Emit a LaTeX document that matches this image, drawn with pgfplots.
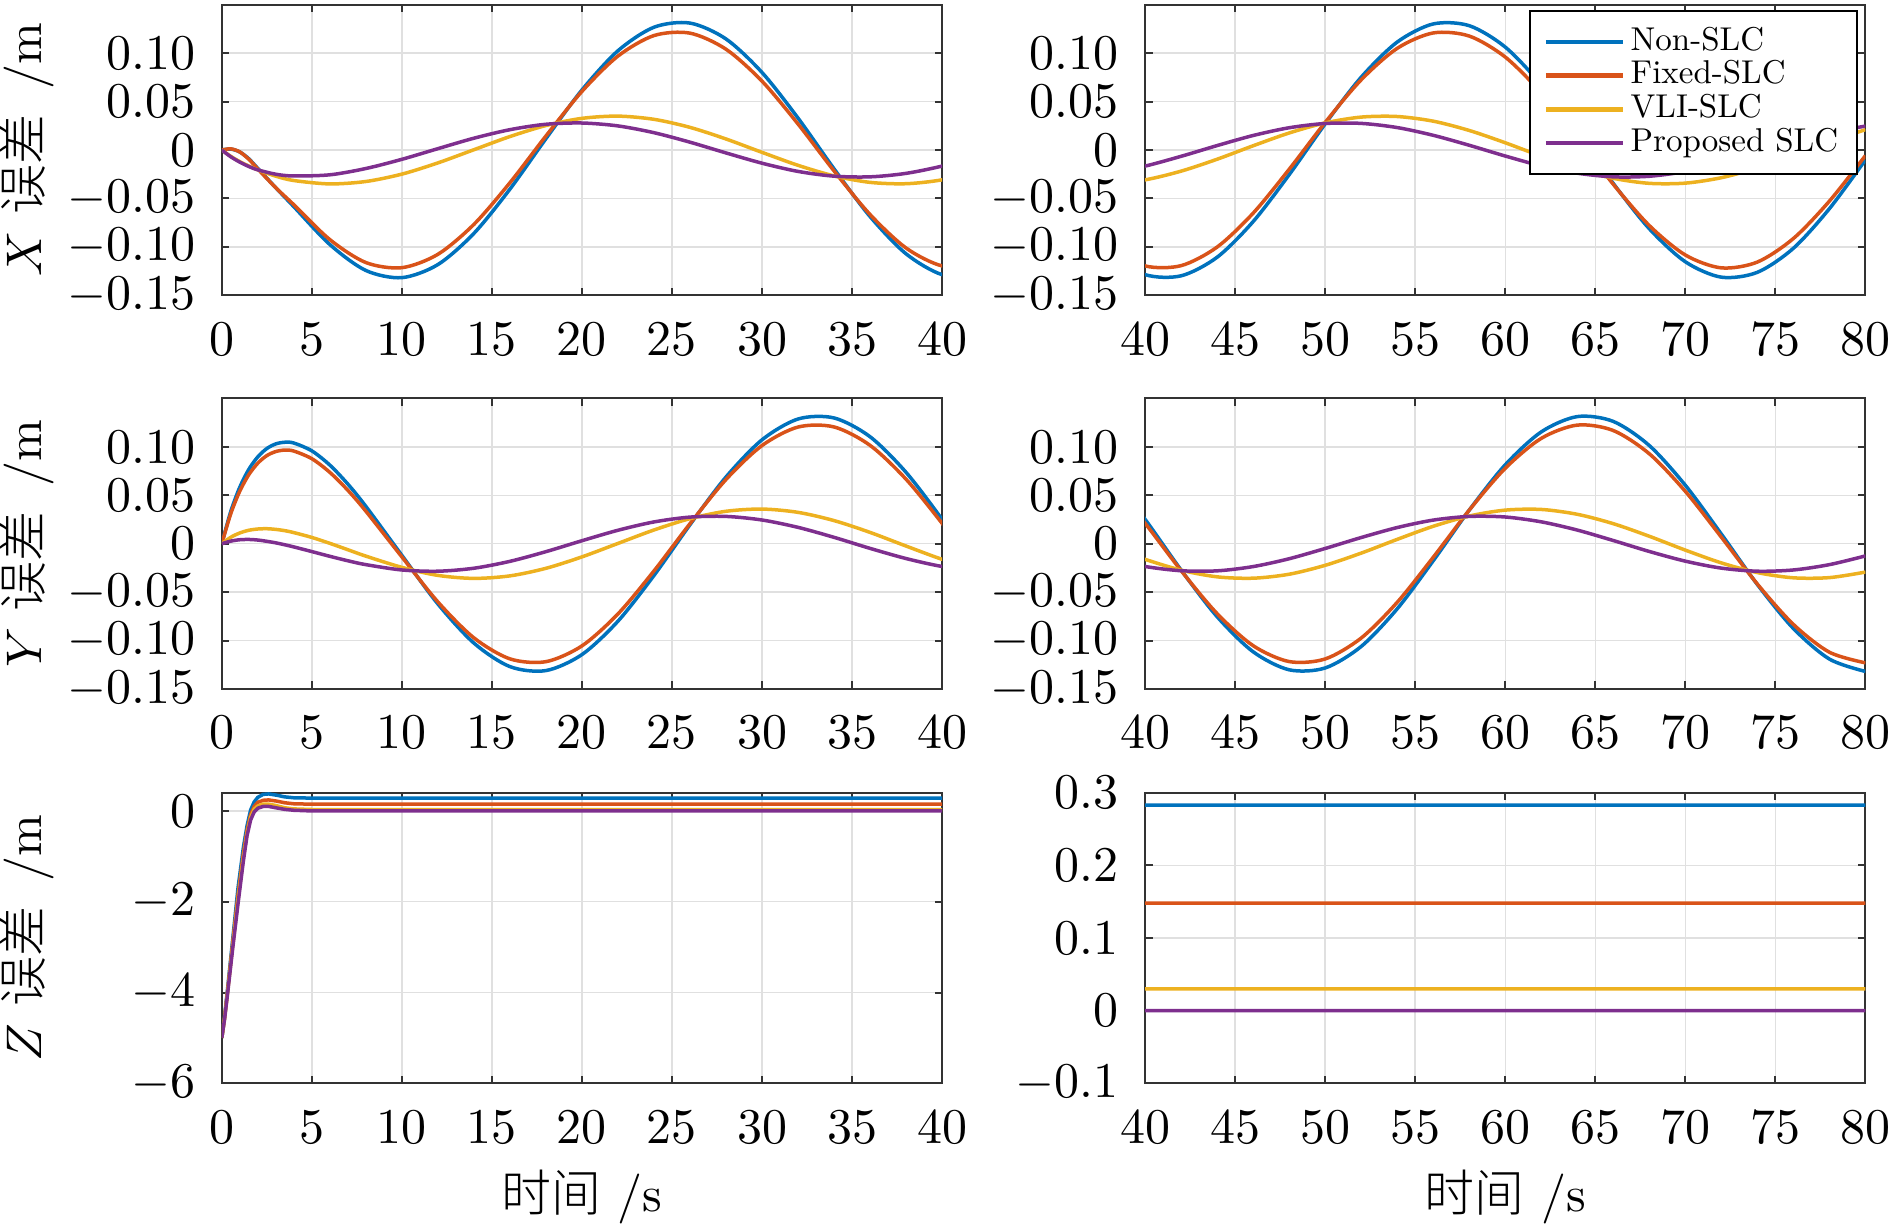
\documentclass[border=0pt]{standalone}
\usepackage{fontspec}
\newfontfamily\cjk{Noto Sans CJK SC Light}
\newfontfamily\lgd{lmroman10-regular}[Extension=.otf]
\usepackage{pgfplots}
\usepackage{pgfplotstable}
\pgfplotsset{compat=1.18}
\definecolor{c1}{rgb}{0,0.447,0.741}
\definecolor{c2}{rgb}{0.850,0.325,0.098}
\definecolor{c3}{rgb}{0.929,0.694,0.125}
\definecolor{c4}{rgb}{0.494,0.184,0.556}

\pgfplotstableread{
t B R Yw P
0 0 0 0 0
0.5 0.0010 0.0012 -0.0065 -0.0070
1 -0.0020 -0.0020 -0.0120 -0.0125
1.5 -0.0090 -0.0095 -0.0165 -0.0170
2 -0.0190 -0.0195 -0.0205 -0.0205
3 -0.0390 -0.0390 -0.0270 -0.0250
4 -0.0585 -0.0565 -0.0315 -0.0268
6 -0.0976 -0.0925 -0.0350 -0.0256
8 -0.1244 -0.1162 -0.0325 -0.0191
10 -0.1318 -0.1215 -0.0249 -0.0096
12 -0.1183 -0.1077 -0.0133 0.0014
14 -0.0861 -0.0768 0.0003 0.0122
16 -0.0404 -0.0338 0.0139 0.0210
18 0.0117 0.0145 0.0253 0.0266
20 0.0620 0.0605 0.0327 0.0279
22 0.1025 0.0970 0.0350 0.0249
24 0.1268 0.1182 0.0317 0.0179
26 0.1311 0.1207 0.0234 0.0081
28 0.1147 0.1041 0.0114 -0.0030
30 0.0801 0.0711 -0.0024 -0.0136
32 0.0330 0.0269 -0.0158 -0.0221
34 -0.0194 -0.0216 -0.0267 -0.0270
36 -0.0687 -0.0666 -0.0334 -0.0277
38 -0.1072 -0.1012 -0.0348 -0.0241
40 -0.1287 -0.1197 -0.0308 -0.0166
42 -0.1299 -0.1194 -0.0218 -0.0065
44 -0.1107 -0.1002 -0.0095 0.0046
46 -0.0739 -0.0652 0.0044 0.0150
48 -0.0255 -0.0199 0.0176 0.0230
50 0.0270 0.0285 0.0280 0.0274
52 0.0752 0.0725 0.0340 0.0275
54 0.1115 0.1050 0.0346 0.0232
56 0.1302 0.1209 0.0298 0.0152
58 0.1284 0.1177 0.0202 0.0049
60 0.1063 0.0960 0.0075 -0.0062
62 0.0674 0.0591 -0.0064 -0.0164
64 0.0179 0.0129 -0.0193 -0.0239
66 -0.0345 -0.0354 -0.0292 -0.0277
68 -0.0813 -0.0780 -0.0344 -0.0271
70 -0.1154 -0.1084 -0.0342 -0.0222
72 -0.1313 -0.1217 -0.0286 -0.0138
74 -0.1263 -0.1157 -0.0185 -0.0033
76 -0.1015 -0.0914 -0.0055 0.0078
78 -0.0606 -0.0528 0.0084 0.0177
80 -0.0102 -0.0058 0.0210 0.0247
}\tabX

\pgfplotstableread{
t B R Yw P
0 0 0 0 0
0.5 0.0334 0.0311 0.0067 0.0027
1 0.0584 0.0543 0.0111 0.0041
1.5 0.0768 0.0713 0.0139 0.0044
2 0.0897 0.0832 0.0152 0.0038
2.5 0.0983 0.0910 0.0155 0.0025
3 0.1031 0.0952 0.0148 0.0009
3.5 0.1048 0.0967 0.0135 -0.0011
4 0.1040 0.0957 0.0115 -0.0033
5 0.0959 0.0878 0.0065 -0.0081
6 0.0812 0.0737 0.0004 -0.0130
7 0.0616 0.0552 -0.0062 -0.0176
8 0.0386 0.0336 -0.0128 -0.0216
10 -0.0120 -0.0136 -0.0244 -0.0271
12 -0.0622 -0.0601 -0.0327 -0.0284
14 -0.1026 -0.0972 -0.0358 -0.0253
16 -0.1269 -0.1189 -0.0332 -0.0182
18 -0.1310 -0.1218 -0.0254 -0.0082
20 -0.1145 -0.1055 -0.0136 0.0031
22 -0.0800 -0.0725 0.0003 0.0139
24 -0.0328 -0.0281 0.0142 0.0225
26 0.0196 0.0207 0.0259 0.0275
28 0.0689 0.0663 0.0335 0.0282
30 0.1073 0.1014 0.0358 0.0245
32 0.1288 0.1205 0.0324 0.0169
34 0.1299 0.1206 0.0239 0.0066
36 0.1105 0.1016 0.0117 -0.0048
38 0.0737 0.0666 -0.0024 -0.0153
40 0.0252 0.0211 -0.0161 -0.0235
42 -0.0272 -0.0278 -0.0273 -0.0279
44 -0.0754 -0.0722 -0.0342 -0.0280
46 -0.1116 -0.1053 -0.0356 -0.0236
48 -0.1302 -0.1217 -0.0315 -0.0155
50 -0.1283 -0.1190 -0.0223 -0.0049
52 -0.1061 -0.0974 -0.0097 0.0064
54 -0.0672 -0.0605 0.0045 0.0167
56 -0.0176 -0.0140 0.0180 0.0244
58 0.0347 0.0347 0.0286 0.0282
60 0.0815 0.0779 0.0347 0.0276
62 0.1155 0.1088 0.0354 0.0226
64 0.1313 0.1225 0.0304 0.0141
66 0.1263 0.1169 0.0207 0.0033
68 0.1014 0.0929 0.0077 -0.0080
70 0.0604 0.0541 -0.0066 -0.0180
72 0.0100 0.0068 -0.0198 -0.0252
74 -0.0421 -0.0416 -0.0298 -0.0284
76 -0.0875 -0.0833 -0.0352 -0.0271
78 -0.1191 -0.1120 -0.0350 -0.0216
80 -0.1319 -0.1230 -0.0293 -0.0126
}\tabY

\pgfplotstableread{
t B R Yw P
0 -5 -5 -5 -5
0.15 -4.55 -4.57 -4.58 -4.60
0.3 -4.00 -4.04 -4.07 -4.10
0.6 -2.85 -2.93 -2.99 -3.05
0.9 -1.70 -1.85 -1.95 -2.05
1.2 -0.80 -0.93 -1.02 -1.10
1.4 -0.33 -0.43 -0.50 -0.55
1.6 0.02 -0.08 -0.14 -0.20
1.8 0.20 0.10 0.04 -0.02
2.0 0.30 0.19 0.11 0.06
2.3 0.365 0.235 0.15 0.10
2.6 0.375 0.243 0.15 0.10
3.0 0.35 0.22 0.12 0.07
3.5 0.31 0.18 0.07 0.035
4 0.29 0.158 0.045 0.015
5 0.283 0.149 0.032 0.0
10 0.283 0.148 0.030 0.0
20 0.283 0.148 0.030 0.0
30 0.283 0.148 0.030 0.0
40 0.283 0.148 0.030 0.0
50 0.283 0.148 0.030 0.0
60 0.283 0.148 0.030 0.0
70 0.283 0.148 0.030 0.0
80 0.283 0.148 0.030 0.0
}\tabZ

\pgfplotsset{
  base/.style={
    scale only axis, width=144.06pt, height=58.1pt,
    axis line style={black!80, line width=0.4pt},
    tick style={black!80, line width=0.4pt},
    major tick length=1.5pt,
    tick align=inside,
    grid=major,
    major grid style={black!12, line width=0.3pt},
    font=\fontsize{10}{12}\selectfont,
    ticklabel style={font=\fontsize{10}{12}\selectfont},
    xticklabel style={yshift=-2pt},
    yticklabel style={xshift=-1.8pt},
    every axis plot/.append style={line width=0.7pt},
    ylabel style={at={(axis description cs:-0.2704,0.5)}, anchor=center},
    xlabel style={at={(axis description cs:0.5,-0.391)}, anchor=center},
  },
  lft/.style={base, xmin=0, xmax=40, xtick={0,5,...,40}},
  rgt/.style={base, xmin=40, xmax=80, xtick={40,45,...,80}},
  xy/.style={ymin=-0.15, ymax=0.15, ytick={-0.15,-0.1,-0.05,0,0.05,0.1},
    yticklabels={$-0.15$,$-0.10$,$-0.05$,$0$,$0.05$,$0.10$}},
}

\begin{document}
\begin{tikzpicture}
\useasboundingbox (0,0) rectangle (378pt,245.4pt);

% X left
\begin{axis}[lft, xy, at={(44.36pt,186.34pt)}, anchor=south west,
  ylabel={$X$ {\cjk 误差}\, /m}]
\addplot[c1, smooth] table[x=t,y=B]{\tabX};
\addplot[c2, smooth] table[x=t,y=R]{\tabX};
\addplot[c3, smooth] table[x=t,y=Yw]{\tabX};
\addplot[c4, smooth] table[x=t,y=P]{\tabX};
\end{axis}

% X right
\begin{axis}[rgt, xy, at={(229.02pt,186.34pt)}, anchor=south west,
  legend style={at={(0.9893,0.9816)}, anchor=north east, draw=black,
    line width=0.4pt, fill=white, inner xsep=2.7pt, inner ysep=2.8pt,
    font=\lgd\fontsize{6.6}{7}\selectfont, cells={anchor=west},
    nodes={inner xsep=1pt, inner ysep=0.4pt, text height=4.6pt, text depth=1.34pt},
    row sep=0pt},
  legend image code/.code={\draw[#1,line width=0.95pt] (0pt,0pt) -- (15.5pt,0pt);}]
\addplot[c1, smooth] table[x=t,y=B]{\tabX};
\addplot[c2, smooth] table[x=t,y=R]{\tabX};
\addplot[c3, smooth] table[x=t,y=Yw]{\tabX};
\addplot[c4, smooth] table[x=t,y=P]{\tabX};
\legend{Non-SLC,Fixed-SLC,VLI-SLC,Proposed SLC}
\end{axis}

% Y left
\begin{axis}[lft, xy, at={(44.36pt,107.6pt)}, anchor=south west,
  ylabel={$Y$ {\cjk 误差}\, /m}]
\addplot[c1, smooth] table[x=t,y=B]{\tabY};
\addplot[c2, smooth] table[x=t,y=R]{\tabY};
\addplot[c3, smooth] table[x=t,y=Yw]{\tabY};
\addplot[c4, smooth] table[x=t,y=P]{\tabY};
\end{axis}

% Y right
\begin{axis}[rgt, xy, at={(229.02pt,107.6pt)}, anchor=south west]
\addplot[c1, smooth] table[x=t,y=B]{\tabY};
\addplot[c2, smooth] table[x=t,y=R]{\tabY};
\addplot[c3, smooth] table[x=t,y=Yw]{\tabY};
\addplot[c4, smooth] table[x=t,y=P]{\tabY};
\end{axis}

% Z left
\begin{axis}[lft, at={(44.36pt,28.74pt)}, anchor=south west,
  ymin=-6, ymax=0.4, ytick={-6,-4,-2,0},
  ylabel={$Z$ {\cjk 误差}\, /m}, xlabel={{\cjk 时间} /s}]
\addplot[c1] table[x=t,y=B]{\tabZ};
\addplot[c2] table[x=t,y=R]{\tabZ};
\addplot[c3] table[x=t,y=Yw]{\tabZ};
\addplot[c4] table[x=t,y=P]{\tabZ};
\end{axis}

% Z right
\begin{axis}[rgt, at={(229.02pt,28.74pt)}, anchor=south west,
  ymin=-0.1, ymax=0.3, ytick={-0.1,0,0.1,0.2,0.3},
  yticklabels={$-0.1$,$0$,$0.1$,$0.2$,$0.3$},
  xlabel={{\cjk 时间} /s}]
\addplot[c1] table[x=t,y=B]{\tabZ};
\addplot[c2] table[x=t,y=R]{\tabZ};
\addplot[c3] table[x=t,y=Yw]{\tabZ};
\addplot[c4] table[x=t,y=P]{\tabZ};
\end{axis}
\end{tikzpicture}
\end{document}
